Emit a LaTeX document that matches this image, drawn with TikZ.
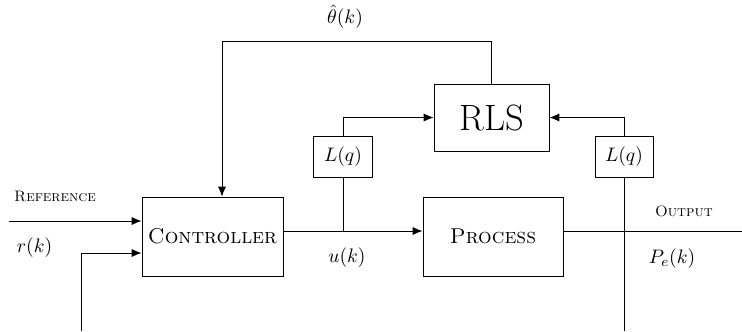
\documentclass[tikz,border=0pt]{standalone}
\usetikzlibrary{arrows.meta}
\begin{document}
\begin{tikzpicture}[x=0.56pt,y=-0.56pt,
  blk/.style={draw,line width=0.5pt,rectangle,inner sep=0pt},
  conn/.style={line width=0.5pt},
  arr/.style={conn,-{Latex[length=5.5pt,width=4.5pt]}},
  lbl/.style={inner sep=0pt,font=\fontsize{11}{13}\selectfont},
  sclbl/.style={inner sep=0pt,font=\fontsize{8.5}{10}\selectfont}]
\useasboundingbox (0,0) rectangle (742,331);
\node[blk,minimum width=141*0.56pt,minimum height=79*0.56pt,font=\large] (ctrl) at (212.5,236.5) {\textsc{Controller}};
\node[blk,minimum width=140*0.56pt,minimum height=79*0.56pt,font=\large] (proc) at (493,236.5) {\textsc{Process}};
\node[blk,minimum width=115*0.56pt,minimum height=67*0.56pt,font=\fontsize{20.5}{24}\selectfont] (rls) at (491.5,117.5) {RLS};
\node[blk,minimum width=59*0.56pt,minimum height=41*0.56pt,font=\fontsize{10.5}{12}\selectfont] (lq1) at (343,156.5) {$L(q)$};
\node[blk,minimum width=58*0.56pt,minimum height=41*0.56pt,font=\fontsize{10.5}{12}\selectfont] (lq2) at (624,156.5) {$L(q)$};

\coordinate (refin) at (9,221);
\coordinate (in2) at (81,331);
\coordinate (j1) at (343,231);
\coordinate (fbtop) at (222,41);
\coordinate (outend) at (742,231);
\coordinate (meas) at (624,331);

\draw[arr] (refin) -- (refin -| ctrl.west);
\draw[arr] (in2) |- (ctrl.west |- 0,253);
\draw[arr] (ctrl.east |- j1) -- (proc.west |- j1);
\draw[conn] (j1) -- (lq1.south);
\draw[arr] (lq1.north) |- (rls.west);
\draw[arr] (rls.north) |- (fbtop) -- (fbtop |- ctrl.north);
\draw[conn] (proc.east |- outend) -- (outend);
\draw[conn] (meas) -- (lq2.south);
\draw[arr] (lq2.north) |- (rls.east);

\node[sclbl] (tref) at (55,196) {\textsc{Reference}};
\node[lbl] (tr) at (34.5,248) {$r(k)$};
\node[lbl] (tth) at (345,17) {$\hat{\theta}(k)$};
\node[lbl] (tu) at (347,258) {$u(k)$};
\node[sclbl] (tout) at (684,211) {\textsc{Output}};
\node[lbl] (tp) at (672,259) {$P_e(k)$};
\end{tikzpicture}
\end{document}
